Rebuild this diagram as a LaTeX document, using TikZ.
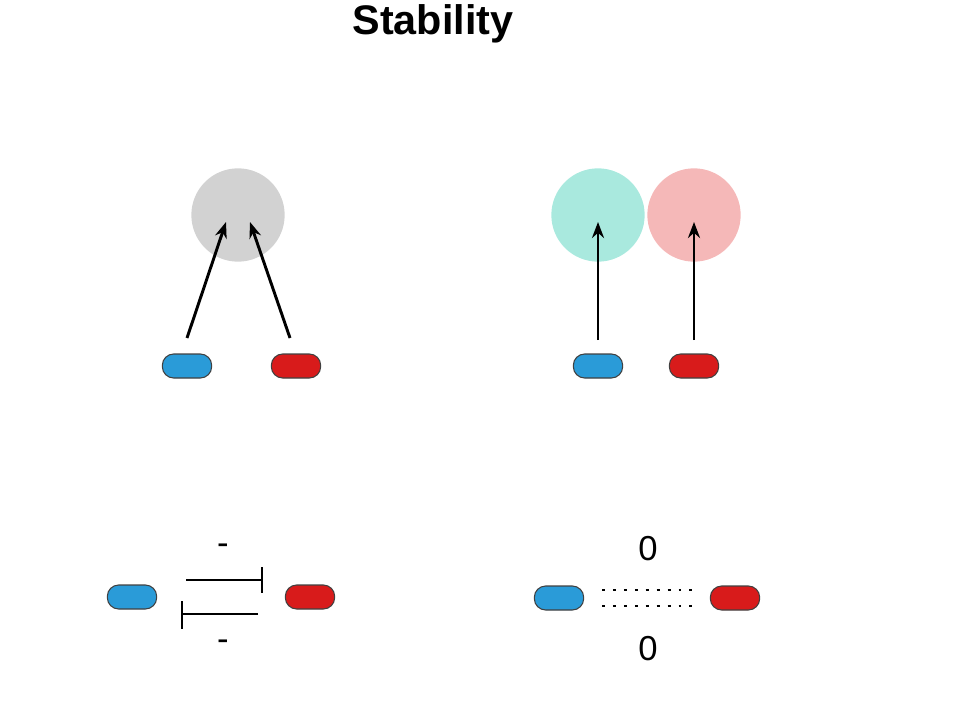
\documentclass[tikz,border=0pt]{standalone}
\usepackage{fontspec}
\setmainfont{Liberation Sans}
\usetikzlibrary{arrows.meta}
\definecolor{pblue}{HTML}{2A9BD8}
\definecolor{pred}{HTML}{D81B1B}
\definecolor{cgray}{HTML}{D2D2D2}
\definecolor{ccyan}{HTML}{A9E9DE}
\definecolor{cpink}{HTML}{F5B8B8}
\begin{document}
\begin{tikzpicture}[x=0.75pt,y=-0.75pt,
  pill/.style={draw=black!75,line width=0.8pt,rounded corners=8.5pt,minimum width=37pt,minimum height=18pt,inner sep=0pt},
  bpill/.style={pill,fill=pblue},
  rpill/.style={pill,fill=pred},
  blob/.style={circle,minimum size=70pt,inner sep=0pt},
  arr/.style={-{Stealth[length=12pt,width=9pt]},line width=2.2pt},
  inh/.style={line width=2.2pt},
  dots/.style={line width=2.2pt,dash pattern=on 2.2pt off 6pt},
  lab/.style={font=\fontsize{26}{26}\selectfont}]
\useasboundingbox (0,0) rectangle (956,720);
\node[font=\bfseries\fontsize{31}{31}\selectfont] (title) at (433,24) {Stability};
% top left
\node[blob,fill=cgray] (g) at (238,215) {};
\node[bpill] (b1) at (187,366) {};
\node[rpill] (r1) at (296,366) {};
\coordinate (a1s) at (187,338); \coordinate (a1e) at (226,222);
\coordinate (a2s) at (290,338); \coordinate (a2e) at (250,222);
\draw[arr] (a1s) -- (a1e);
\draw[arr] (a2s) -- (a2e);
% top right
\node[blob,fill=ccyan] (c) at (598,215) {};
\node[blob,fill=cpink] (p) at (694,215) {};
\node[bpill] (b2) at (598,366) {};
\node[rpill] (r2) at (694,366) {};
\coordinate (a3s) at (598,340); \coordinate (a3e) at (598,222);
\coordinate (a4s) at (694,340); \coordinate (a4e) at (694,222);
\draw[arr] (a3s) -- (a3e);
\draw[arr] (a4s) -- (a4e);
% bottom left
\node[bpill] (b3) at (132,597) {};
\node[rpill] (r3) at (310,597) {};
\draw[inh] (186,580) -- (262,580) (262,567) -- (262,593);
\draw[inh] (258,614) -- (182,614) (182,601) -- (182,629);
\node[lab] (m1) at (223,549) {-};
\node[lab] (m2) at (223,645) {-};
% bottom right
\node[bpill] (b4) at (559,598) {};
\node[rpill] (r4) at (735,598) {};
\draw[dots] (602,590) -- (695,590);
\draw[dots] (602,606) -- (695,606);
\node[lab] (z1) at (648,549) {0};
\node[lab] (z2) at (648,649) {0};
\end{tikzpicture}
\end{document}
